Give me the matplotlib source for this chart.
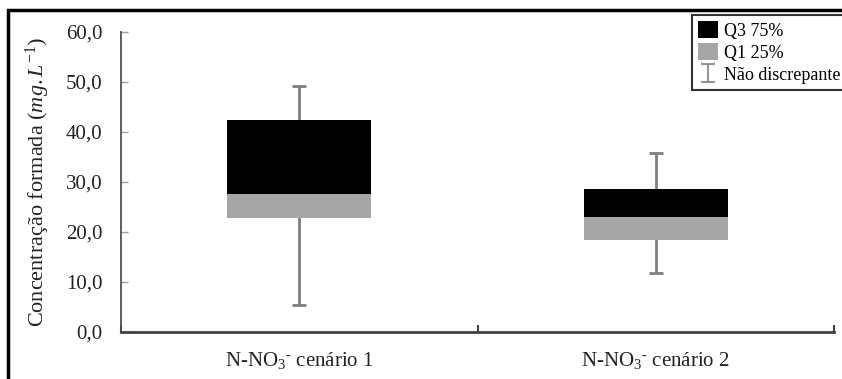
import matplotlib
matplotlib.use("Agg")
import matplotlib.pyplot as plt
import numpy as np
from matplotlib.patches import Patch, Rectangle
from matplotlib.ticker import FuncFormatter

# quartis por cenario (mg/L)
categories = [r"N-NO$_3$$^{\text{-}}$ cenário 1", r"N-NO$_3$$^{\text{-}}$ cenário 2"]
q_min = [5.4, 11.9]
q1 = [22.8, 18.5]
median = [27.7, 23.0]
q3 = [42.4, 28.6]
q_max = [49.3, 35.9]

plt.rcParams["font.family"] = ["Liberation Serif", "DejaVu Serif"]
plt.rcParams["mathtext.fontset"] = "custom"
plt.rcParams["mathtext.rm"] = "Liberation Serif"
plt.rcParams["mathtext.it"] = "Liberation Serif:italic"

W, H = 842, 379
fig = plt.figure(figsize=(W / 100, H / 100), dpi=100)
ax = fig.add_axes([121 / W, 1 - 332 / H, (834 - 121) / W, 300 / H])

x = list(range(len(categories)))
low = [m - q for m, q in zip(median, q1)]
high = [q - m for q, m in zip(q3, median)]
lo_err = [m - a for m, a in zip(median, q_min)]
hi_err = [b - m for b, m in zip(q_max, median)]

ax.errorbar(x, median, yerr=[lo_err, hi_err], fmt="none", ecolor="#7f7f7f",
            elinewidth=2, capsize=5, capthick=2, zorder=1)
ax.bar(x, low, bottom=q1, width=0.405, color="#a6a6a6", zorder=2)
ax.bar(x, high, bottom=median, width=0.405, color="black", zorder=2)

ax.set_xlim(-0.5, 1.5)
ax.set_ylim(0, 60)
ax.set_yticks(range(0, 61, 10))
ax.yaxis.set_major_formatter(FuncFormatter(lambda v, p: f"{v:.1f}".replace(".", ",")))
ax.tick_params(axis="y", direction="in", length=5, width=1, color="#a0a0a0",
               pad=13.5, labelsize=15, labelcolor="#222222")

ax.set_xticks([-0.5, 0.5, 1.5])
ax.set_xticklabels([])
ax.set_xticks(x, minor=True)
ax.set_xticklabels(categories, minor=True)
ax.tick_params(axis="x", which="major", direction="in", length=5, width=1.5, color="#404040")
ax.tick_params(axis="x", which="minor", length=0, pad=13, labelsize=15, labelcolor="#222222")

for s in ("top", "right"):
    ax.spines[s].set_visible(False)
ax.spines["left"].set_color("#505050")
ax.spines["left"].set_linewidth(1.3)
ax.spines["bottom"].set_color("#404040")
ax.spines["bottom"].set_linewidth(2)

ax.set_ylabel(r"Concentração formada $(mg.L^{-1})$", fontsize=16, color="#222222", labelpad=10)

# legenda: caixas dos quartis e barra de whisker (ponto vazio, so para a chave)
key = ax.errorbar([np.nan], [np.nan], yerr=[1], fmt="none", ecolor="#7f7f7f",
                  elinewidth=1.2, capsize=5, capthick=1.2)
handles = [Patch(facecolor="black"), Patch(facecolor="#a6a6a6"), key]
labels = ["Q3 75%", "Q1 25%", "Não discrepante"]
leg = fig.legend(handles, labels, loc="upper left", bbox_to_anchor=(692 / W, 1 - 15 / H),
                 fontsize=13, frameon=True, fancybox=False, edgecolor="black",
                 borderpad=0.35, borderaxespad=0, labelspacing=0.2, handlelength=1.1,
                 handleheight=1.05, handletextpad=0.35)
leg.get_frame().set_linewidth(1.5)

# moldura externa
fig.add_artist(Rectangle((8 / W, -0.1), 1.2, 1.1 - 10 / H, transform=fig.transFigure,
                         fill=False, edgecolor="black", linewidth=2.5, clip_on=False))

fig.savefig("out.png", dpi=100)
